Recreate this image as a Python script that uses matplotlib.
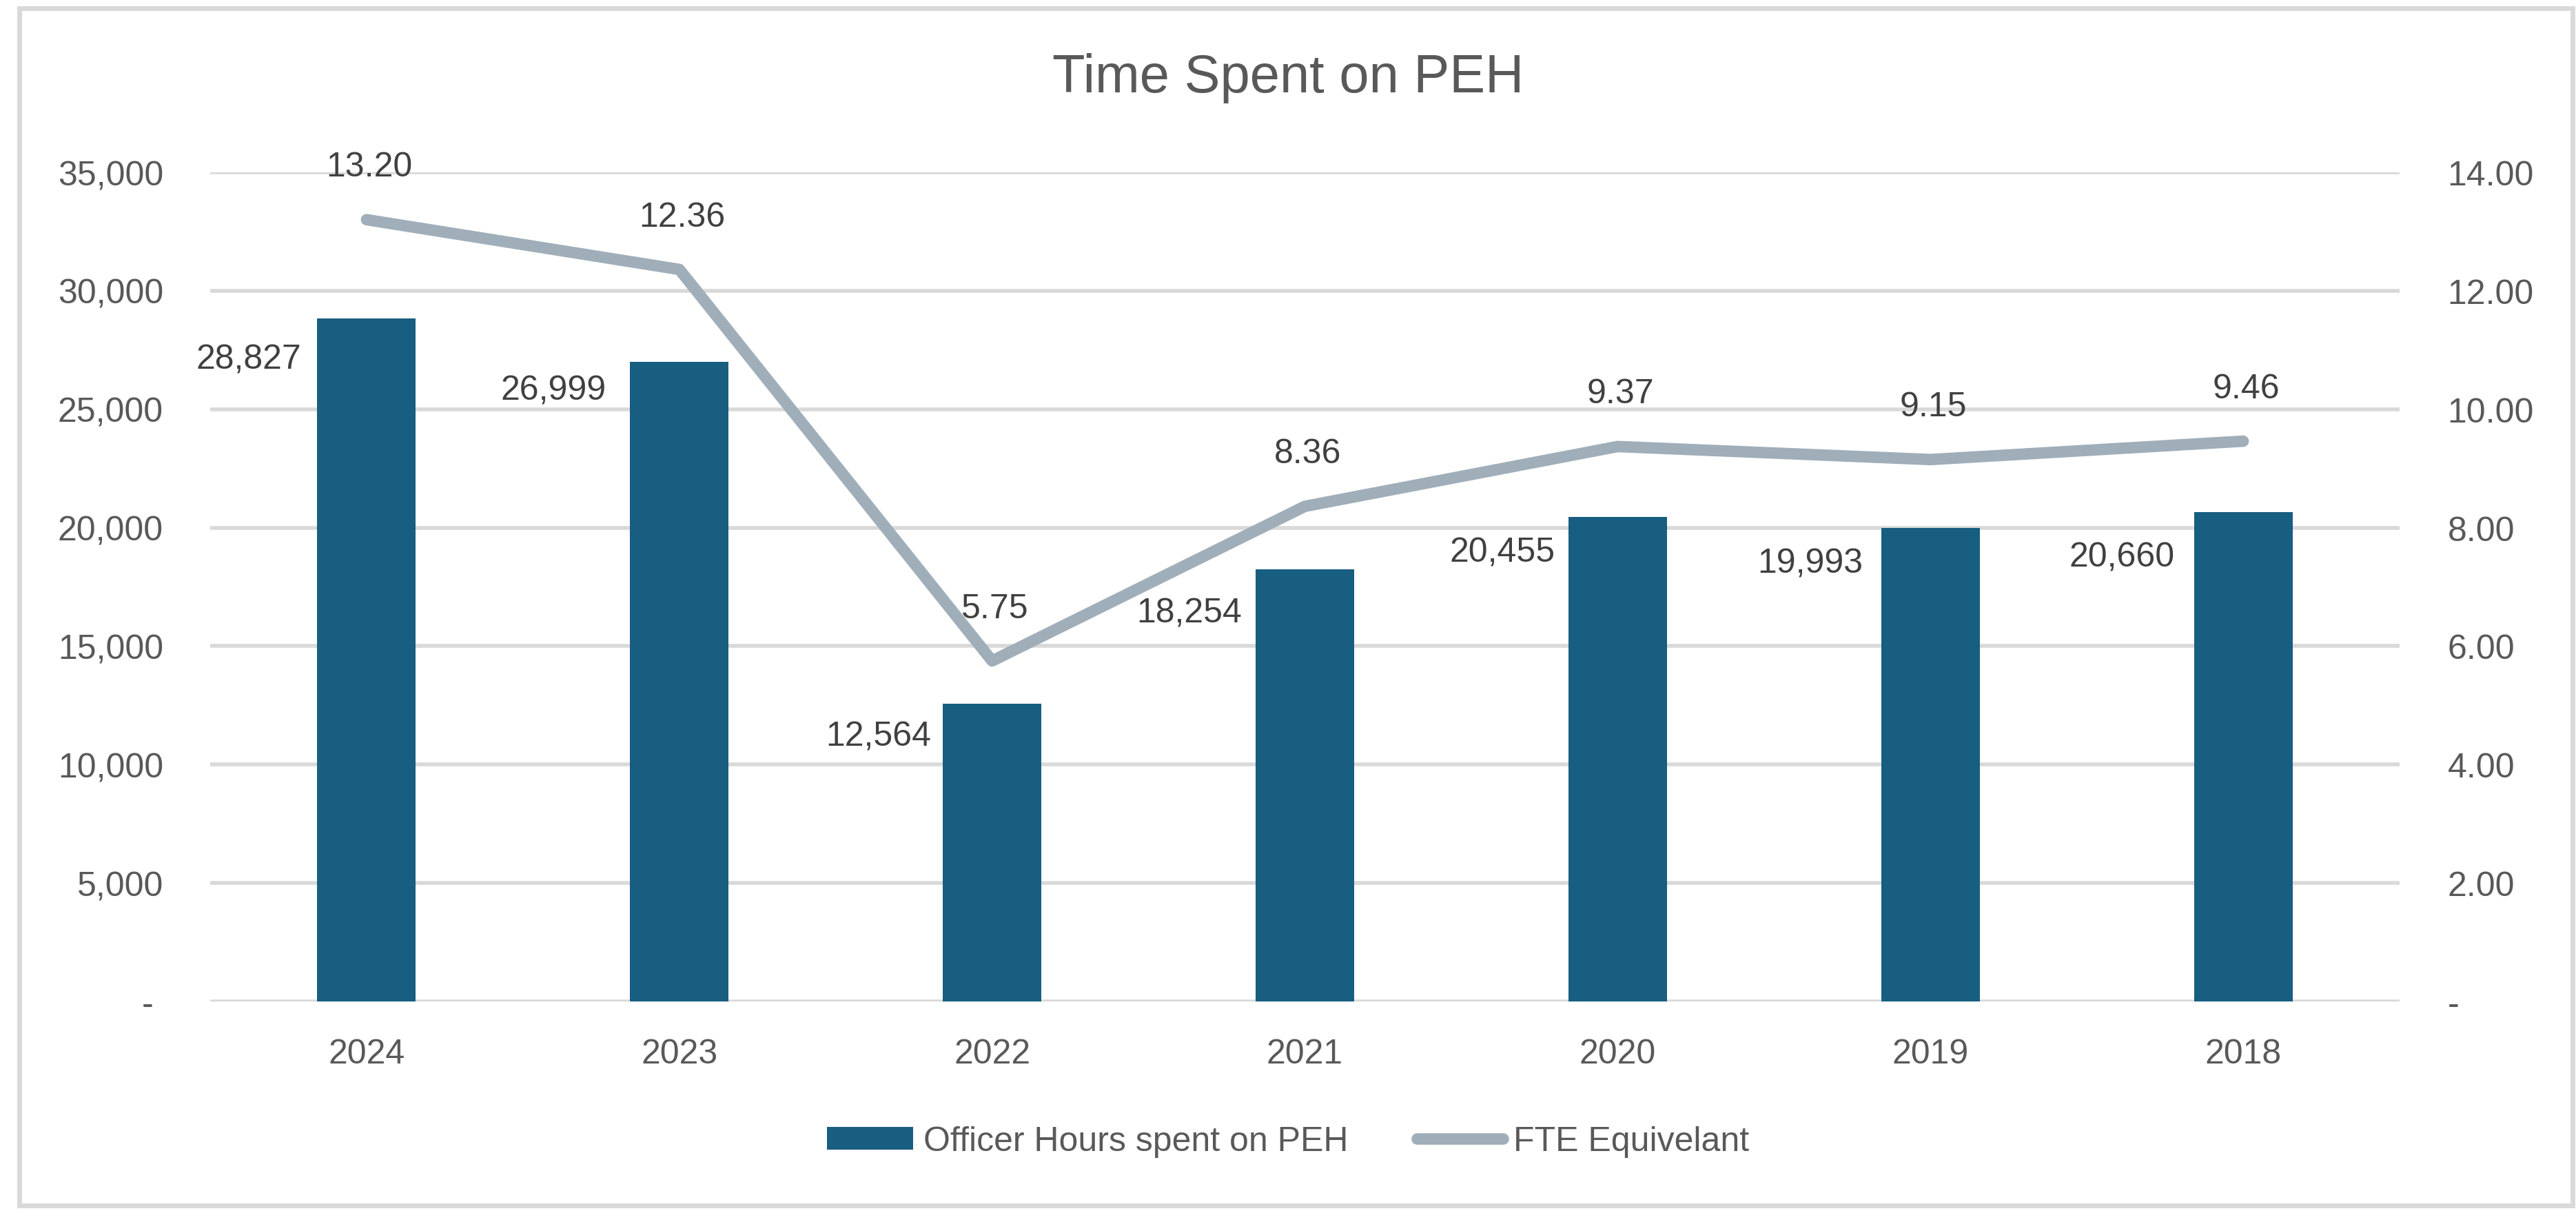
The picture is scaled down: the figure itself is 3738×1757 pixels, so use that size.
import matplotlib.pyplot as plt
from matplotlib.patches import Rectangle
from matplotlib.ticker import FuncFormatter

plt.rcParams['font.family'] = ['Liberation Sans', 'DejaVu Sans']

years = ['2024', '2023', '2022', '2021', '2020', '2019', '2018']
officer_hours = [28827, 26999, 12564, 18254, 20455, 19993, 20660]
fte = [13.20, 12.36, 5.75, 8.36, 9.37, 9.15, 9.46]

# hand-placed bar label offsets (points), as in the source chart
bar_label_dx = [-17, -25, -12, -14, -14, -19, -20]
bar_label_dy = [-43, -30, -34, -46, -37, -37, -47]

bar_color = '#175E80'
line_color = '#A0AEB9'
text_color = '#595959'
label_color = '#404040'
grid_color = '#D9D9D9'

W, H = 3738, 1758
fig = plt.figure(figsize=(W / 100, H / 100), dpi=100)
ax = fig.add_axes([305 / W, 1 - 1454 / H, (3482 - 305) / W, (1454 - 251) / H])
ax2 = ax.twinx()

# outer chart border
fig.patches.append(Rectangle((28 / W, 8 / H), (3733 - 28) / W, (1745 - 8) / H,
                             transform=fig.transFigure, fill=False,
                             edgecolor=grid_color, lw=5))

x = list(range(len(years)))
bars = ax.bar(x, officer_hours, width=0.315, color=bar_color, zorder=2,
              label='Officer Hours spent on PEH')
ln, = ax2.plot(x, fte, color=line_color, lw=12, solid_capstyle='round',
               label='FTE Equivelant', zorder=3)

ax.set_xlim(-0.5, 6.5)
ax.set_ylim(0, 35000)
ax.set_yticks(range(0, 35001, 5000))
ax2.set_ylim(0, 14)
ax2.set_yticks(range(0, 15, 2))

ax.yaxis.set_major_formatter(FuncFormatter(lambda v, p: '- ' if v == 0 else f'{v:,.0f}'))
ax2.yaxis.set_major_formatter(FuncFormatter(lambda v, p: '-' if v == 0 else f'{v:.2f}'))

ax.set_xticks(x)
ax.set_xticklabels(years)
ax.tick_params(axis='x', length=0, pad=38, labelsize=36, labelcolor=text_color)
ax.tick_params(axis='y', length=0, pad=49, labelsize=36, labelcolor=text_color)
ax2.tick_params(axis='y', length=0, pad=50, labelsize=36, labelcolor=text_color)
for lbl in ax2.get_yticklabels():
    lbl.set_horizontalalignment('left')

ax.grid(axis='y', color=grid_color, lw=4, zorder=0)
ax.set_axisbelow(True)
for sp in list(ax.spines.values()) + list(ax2.spines.values()):
    sp.set_visible(False)

# data labels
for xi, v, dx, dy in zip(x, officer_hours, bar_label_dx, bar_label_dy):
    ax.annotate(f'{v:,}', (xi - 0.1575, v), xytext=(dx, dy), textcoords='offset points',
                ha='right', va='center', fontsize=36, color=label_color)
for xi, v in zip(x, fte):
    ax2.annotate(f'{v:.2f}', (xi, v), xytext=(3, 55), textcoords='offset points',
                 ha='center', va='center', fontsize=36, color=label_color)

fig.text(0.5, 1 - 114 / H, 'Time Spent on PEH', ha='center', va='center',
         fontsize=56, color=text_color)

fig.legend(handles=[bars, ln], loc='center', bbox_to_anchor=(0.5, 1 - 1657 / H),
           ncol=2, frameon=False, fontsize=36, labelcolor=text_color,
           handlelength=2.5, handleheight=0.62, columnspacing=2.0, handletextpad=0.3)

fig.savefig('out.png', dpi=100)
